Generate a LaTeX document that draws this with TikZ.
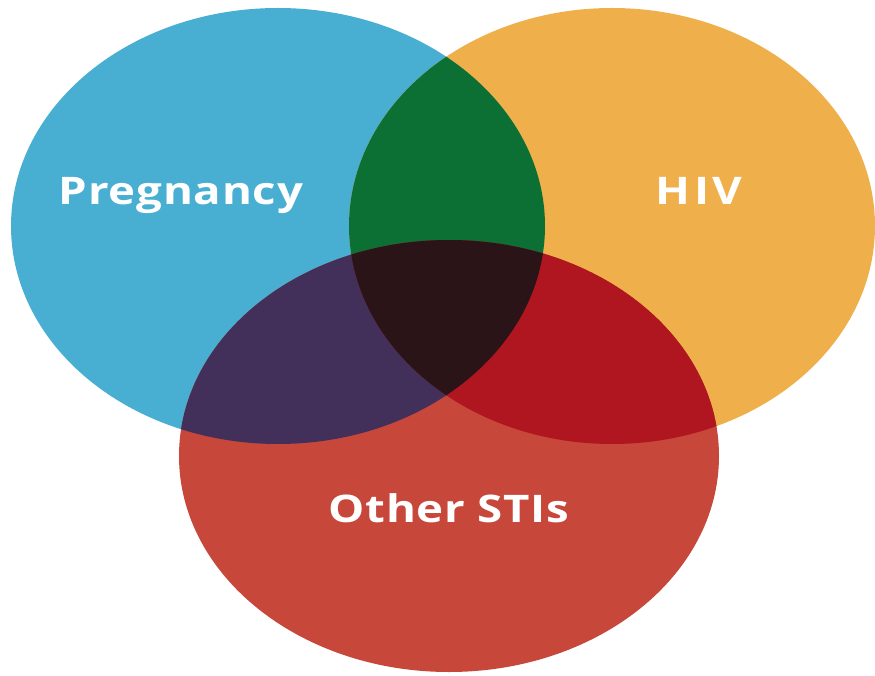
\documentclass[tikz,border=0pt]{standalone}
\usepackage{fontspec}
\setmainfont{Open Sans}
\newfontfamily\lblfont[FakeStretch=1.2,LetterSpace=2]{Open Sans}
\newfontfamily\lblwidefont[FakeStretch=1.2,LetterSpace=10]{Open Sans}
\definecolor{cblue}{HTML}{48AED2}
\definecolor{corange}{HTML}{EFB04C}
\definecolor{cred}{HTML}{C7473A}
\definecolor{cgreen}{HTML}{0C7034}
\definecolor{cpurple}{HTML}{42305B}
\definecolor{cdred}{HTML}{B0161F}
\definecolor{ccenter}{HTML}{2A1418}
\begin{document}
\begin{tikzpicture}[x=1pt,y=-1pt,
  lbl/.style={text=white, font=\lblfont\bfseries\fontsize{38}{38}\selectfont, anchor=base, inner sep=0pt},
  lblwide/.style={lbl, font=\lblwidefont\bfseries\fontsize{38}{38}\selectfont}]
\useasboundingbox (0,0) rectangle (875,676);
\def\blueE{(278,226) ellipse [x radius=267pt, y radius=218pt]}
\def\orangeE{(612,226) ellipse [x radius=263pt, y radius=218pt]}
\def\redE{(449,456) ellipse [x radius=270pt, y radius=216pt]}
\fill[cblue] \blueE;
\fill[corange] \orangeE;
\fill[cred] \redE;
\begin{scope}\clip \blueE; \fill[cgreen] \orangeE; \end{scope}
\begin{scope}\clip \blueE; \fill[cpurple] \redE; \end{scope}
\begin{scope}\clip \orangeE; \fill[cdred] \redE; \end{scope}
\begin{scope}\clip \blueE; \clip \orangeE; \fill[ccenter] \redE; \end{scope}
\node[lbl] (preg) at (181,205) {Pregnancy};
\node[lblwide] (hiv) at (699,205) {HIV};
\node[lbl] (sti) at (449,522) {Other STIs};
\end{tikzpicture}
\end{document}
